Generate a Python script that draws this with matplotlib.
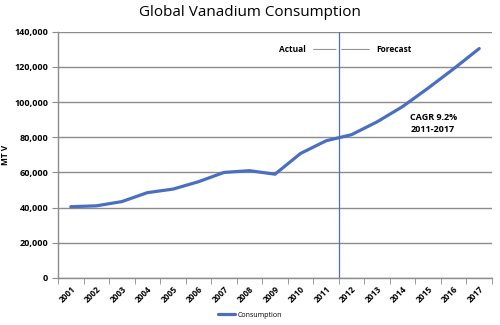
import matplotlib.pyplot as plt
import matplotlib.transforms as mtransforms
from matplotlib.ticker import FuncFormatter

# Datos
years = ['2001', '2002', '2003', '2004', '2005', '2006', '2007', '2008', '2009',
         '2010', '2011', '2012', '2013', '2014', '2015', '2016', '2017']
consumption = [40500, 41000, 43400, 48500, 50500, 54700, 60000, 61000, 59000,
               70800, 78000, 81500, 88800, 97500, 108000, 119000, 130500]
y_ticks = [0, 20000, 40000, 60000, 80000, 100000, 120000, 140000]

plt.rcParams['font.family'] = ['Open Sans', 'DejaVu Sans']

fig = plt.figure(figsize=(5, 3.25), dpi=100)
ax = fig.add_axes([0.116, 0.145, 0.868, 0.757])

x = list(range(len(years)))
line_color = '#4a6fc0'
ax.plot(x, consumption, color=line_color, linewidth=2.3, label='Consumption',
        solid_capstyle='round')

# Linea vertical Actual / Forecast
split = 10.5
ax.axvline(split, color='#4f6fb8', linewidth=0.9)
ax.annotate('', xy=(split, 130000), xytext=(split - 1.1, 130000),
            arrowprops=dict(arrowstyle='-', color='#8a8a8a', lw=0.7))
ax.annotate('', xy=(split, 130000), xytext=(split + 1.3, 130000),
            arrowprops=dict(arrowstyle='-', color='#8a8a8a', lw=0.7))
ax.text(split - 1.3, 130000, 'Actual', ha='right', va='center', fontsize=6, fontweight='bold')
ax.text(split + 1.45, 130000, 'Forecast', ha='left', va='center', fontsize=6, fontweight='bold')
ax.text(13.3, 94000, 'CAGR 9.2%\n2011-2017', ha='left', va='top', fontsize=6.5,
        fontweight='bold', linespacing=1.5)

ax.set_xlim(-0.5, len(years) - 0.5)
ax.set_ylim(0, 140000)
ax.set_yticks(y_ticks)
ax.yaxis.set_major_formatter(FuncFormatter(lambda v, p: f'{int(v):,}'))
ax.grid(axis='y', color='#8c8c8c', linewidth=1.0)
ax.set_axisbelow(True)

ax.set_xticks(x)
ax.set_xticklabels(years, rotation=45, ha='right', rotation_mode='anchor', fontsize=6,
                   fontweight='bold')
offset = mtransforms.ScaledTranslation(6 / 100, 0, fig.dpi_scale_trans)
for lab in ax.get_xticklabels():
    lab.set_transform(lab.get_transform() + offset)
ax.set_xticks([i - 0.5 for i in range(len(years) + 1)], minor=True)
ax.tick_params(axis='x', which='major', length=0, pad=5)
ax.tick_params(axis='x', which='minor', length=4, color='#8c8c8c')
ax.tick_params(axis='y', length=4, color='#8c8c8c', labelsize=6.5, pad=3)
for lab in ax.get_yticklabels():
    lab.set_fontweight('bold')

for s in ['top', 'right']:
    ax.spines[s].set_visible(False)
for s in ['left', 'bottom']:
    ax.spines[s].set_color('#8c8c8c')
    ax.spines[s].set_linewidth(1.0)

ax.set_ylabel('MT V', fontsize=6, fontweight='bold', labelpad=3)
fig.suptitle('Global Vanadium Consumption', fontsize=11, y=0.985)

fig.legend(loc='lower center', bbox_to_anchor=(0.5, 0.0), frameon=False, fontsize=5,
           handlelength=2.5, handletextpad=0.3)

fig.savefig('out.png', dpi=100)
